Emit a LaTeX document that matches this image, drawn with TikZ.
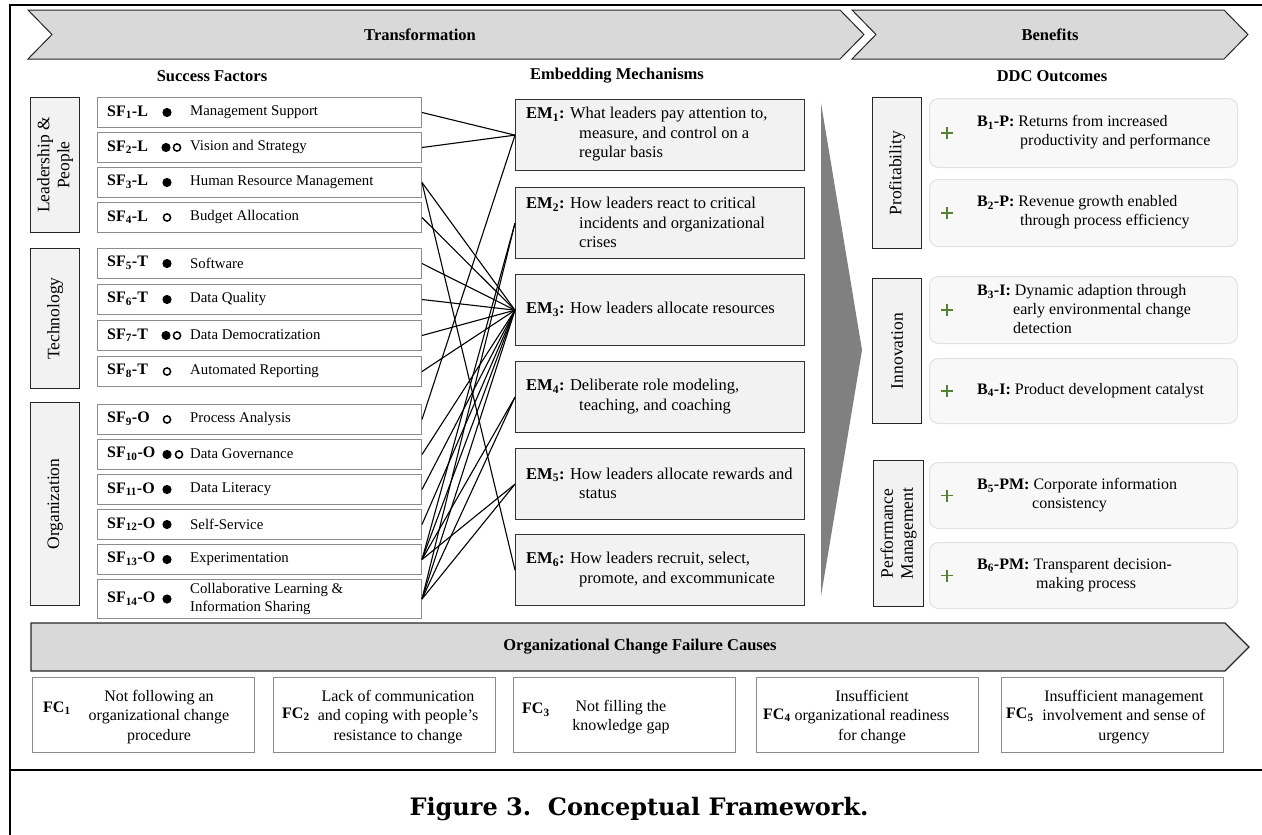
\documentclass[tikz,border=0pt]{standalone}
\usepackage{fontspec}
\setmainfont{Liberation Serif}
\newfontfamily\capfont{DejaVu Serif}
\usetikzlibrary{calc}
\definecolor{barfill}{RGB}{217,217,217}
\definecolor{boxfill}{RGB}{242,242,242}
\definecolor{bfill}{RGB}{248,248,248}
\definecolor{bline}{RGB}{226,226,226}
\definecolor{sfline}{RGB}{140,140,140}
\definecolor{plusgreen}{RGB}{84,130,53}
\definecolor{wedgegray}{RGB}{128,128,128}
\tikzset{
  sfbox/.style={draw=sfline, line width=1pt, fill=white, anchor=north west, inner sep=0pt, minimum width=324pt},
  catbox/.style={draw=black!85, line width=1.2pt, fill=boxfill, anchor=north west, inner sep=0pt, minimum width=49pt},
  embox/.style={draw=black!80, line width=1.3pt, fill=boxfill, anchor=north west, inner sep=0pt, minimum width=289pt, minimum height=71pt},
  bbox/.style={draw=bline, line width=1pt, fill=bfill, rounded corners=9pt, anchor=north west, inner sep=0pt, minimum width=308pt},
  fcbox/.style={draw=sfline, line width=1pt, fill=white, anchor=north west, inner sep=0pt, minimum width=222pt, minimum height=75pt},
  arrowbar/.style={draw=black!85, line width=1pt, fill=barfill},
  link/.style={draw=black, line width=1.1pt},
  hdr/.style={font=\fontsize{16.5}{19.5}\selectfont\bfseries, inner sep=0pt},
  lab/.style={font=\fontsize{16}{19}\selectfont\bfseries, inner sep=0pt, anchor=west},
  sfdesc/.style={font=\fontsize{14.8}{18}\selectfont, inner sep=0pt, anchor=west, align=left},
  emtext/.style={font=\fontsize{16.5}{19.5}\selectfont, inner sep=0pt, anchor=west, align=left},
  btext/.style={font=\fontsize{16}{19}\selectfont, inner sep=0pt, anchor=west, align=left},
  fctext/.style={font=\fontsize{16}{19.5}\selectfont, inner sep=0pt, align=center},
  cattext/.style={font=\fontsize{17.5}{20}\selectfont, inner sep=0pt, align=center, rotate=90},
  plusmark/.style={draw=plusgreen, line width=1.6pt},
}
\begin{document}
\begin{tikzpicture}[x=1pt,y=-1pt]
\useasboundingbox (0,0) rectangle (1262,835);
\fill[white] (0,0) rectangle (1262,835);
% frame
\draw[line width=2.5pt] (10,835) -- (10,5) -- (1262,5);
\draw[line width=2.5pt] (10,770) -- (1262,770);

% top chevrons
\draw[arrowbar] (28,10) -- (840,10) -- (864,34.5) -- (840,59) -- (28,59) -- (52,34.5) -- cycle;
\node[hdr] (ttrans) at (420,34.5) {Transformation};
\draw[arrowbar] (852,10) -- (1224,10) -- (1248,34.5) -- (1224,59) -- (852,59) -- (876,34.5) -- cycle;
\node[hdr] (tben) at (1050,34.5) {Benefits};

% column headers
\node[hdr] (hsf) at (212,76) {Success Factors};
\node[hdr] (hem) at (617,76) {Embedding Mechanisms};
\node[hdr] (hddc) at (1052,76) {DDC Outcomes};

% left categories
\node[catbox, minimum height=135pt] (catL) at (30,97) {};
\node[cattext] (catLt) at (catL.center) {Leadership \&\\People};
\node[catbox, minimum height=140pt] (catT) at (30,248) {};
\node[cattext] (catTt) at (catT.center) {Technology};
\node[catbox, minimum height=203pt] (catO) at (30,402) {};
\node[cattext] (catOt) at (catO.center) {Organization};

% success factors
\foreach \i/\t/\h/\lab/\desc in {
  1/97/30/L/{Management Support},
  2/132/30/L/{Vision and Strategy},
  3/167/30/L/{Human Resource Management},
  4/202/30/L/{Budget Allocation},
  5/248/30/T/{Software},
  6/284/30/T/{Data Quality},
  7/320/30/T/{Data Democratization},
  8/356/30/T/{Automated Reporting},
  9/404/30/O/{Process Analysis},
  10/439/30/O/{Data Governance},
  11/474/30/O/{Data Literacy},
  12/509/30/O/{Self-Service},
  13/544/30/O/{Experimentation},
  14/579/39/O/{Collaborative Learning \&\\Information Sharing}}{
  \node[sfbox, minimum height=\h pt] (sf\i) at (97,\t) {};
  \node[lab] (sf\i l) at (107,\t+\h/2) {SF\textsubscript{\i}-\lab};
  \node[sfdesc] (sf\i d) at (190,\t+\h/2) {\desc};
}
% dots
\foreach \i/\x in {1/167,3/167,5/167,6/167,11/167,12/167,13/167,14/167,2/166,7/166,10/167}
  \fill (\x,0 |- sf\i) circle (4.6pt);
\foreach \i/\x in {4/167,8/167,9/167,2/177,7/177,10/179}
  \draw[line width=1.5pt] (\x,0 |- sf\i) circle (3.6pt);

% embedding mechanisms
\node[embox] (em1) at (515,99) {};
\node[emtext] (em1t) at (526,134.5) {\textbf{EM\textsubscript{1}:} What leaders pay attention to,\\\hspace*{53pt}measure, and control on a\\\hspace*{53pt}regular basis};
\node[embox] (em2) at (515,187) {};
\node[emtext] (em2t) at (526,222.5) {\textbf{EM\textsubscript{2}:} How leaders react to critical\\\hspace*{53pt}incidents and organizational\\\hspace*{53pt}crises};
\node[embox] (em3) at (515,274) {};
\node[emtext] (em3t) at (526,309.5) {\textbf{EM\textsubscript{3}:} How leaders allocate resources};
\node[embox] (em4) at (515,361) {};
\node[emtext] (em4t) at (526,396.5) {\textbf{EM\textsubscript{4}:} Deliberate role modeling,\\\hspace*{53pt}teaching, and coaching};
\node[embox] (em5) at (515,448) {};
\node[emtext] (em5t) at (526,483.5) {\textbf{EM\textsubscript{5}:} How leaders allocate rewards and\\\hspace*{53pt}status};
\node[embox] (em6) at (515,534) {};
\node[emtext] (em6t) at (526,569.5) {\textbf{EM\textsubscript{6}:} How leaders recruit, select,\\\hspace*{53pt}promote, and excommunicate};

% connectors
\foreach \s/\e in {1/1,2/1,9/1,13/2,14/2,3/3,4/3,5/3,6/3,7/3,8/3,10/3,11/3,12/3,13/3,14/3,13/4,14/4,13/5,14/5,3/6}
  \draw[link] (sf\s.east) -- (em\e.west);

% wedge
\fill[wedgegray] (821,103) -- (862,350) -- (821,596) -- cycle;

% right categories
\node[catbox, minimum height=151pt] (catP) at (872,97) {};
\node[cattext] (catPt) at (catP.center) {Profitability};
\node[catbox, minimum height=145pt] (catI) at (872,278) {};
\node[cattext] (catIt) at (catI.center) {Innovation};
\node[catbox, minimum height=146pt, minimum width=50pt] (catM) at (873,460) {};
\node[cattext] (catMt) at (catM.center) {Performance\\Management};

% benefits
\node[bbox, minimum height=69pt] (b1) at (929,98) {};
\node[btext] (b1t) at (977,132.5) {\textbf{B\textsubscript{1}-P:} Returns from increased\\\hspace*{43pt}productivity and performance};
\node[bbox, minimum height=67pt] (b2) at (929,179) {};
\node[btext] (b2t) at (977,212.5) {\textbf{B\textsubscript{2}-P:} Revenue growth enabled\\\hspace*{43pt}through process efficiency};
\node[bbox, minimum height=67pt] (b3) at (929,276) {};
\node[btext] (b3t) at (977,309.5) {\textbf{B\textsubscript{3}-I:} Dynamic adaption through\\\hspace*{36pt}early environmental change\\\hspace*{36pt}detection};
\node[bbox, minimum height=65pt] (b4) at (929,358) {};
\node[btext] (b4t) at (977,390.5) {\textbf{B\textsubscript{4}-I:} Product development catalyst};
\node[bbox, minimum height=66pt] (b5) at (929,462) {};
\node[btext] (b5t) at (977,495) {\textbf{B\textsubscript{5}-PM:} Corporate information\\\hspace*{55pt}consistency};
\node[bbox, minimum height=66pt] (b6) at (929,542) {};
\node[btext] (b6t) at (977,575) {\textbf{B\textsubscript{6}-PM:} Transparent decision-\\\hspace*{59pt}making process};
\foreach \b in {b1,b2,b3,b4,b5,b6}
  \draw[plusmark] (941,0 |- \b) -- (953,0 |- \b) (947,0 |- \b) ++(0,-6) -- ++(0,12);

% failure causes bar
\draw[arrowbar, line width=1.2pt] (31,623) -- (1225,623) -- (1249,647) -- (1225,671) -- (31,671) -- cycle;
\node[hdr] (ocfc) at (640,647) {Organizational Change Failure Causes};

\node[fcbox] (fc1) at (32,677) {};
\node[lab] (fc1l) at (43,708) {FC\textsubscript{1}};
\node[fctext] (fc1t) at (159,717) {Not following an\\organizational change\\procedure};
\node[fcbox] (fc2) at (273,677) {};
\node[lab] (fc2l) at (282,714) {FC\textsubscript{2}};
\node[fctext] (fc2t) at (398,717) {Lack of communication\\and coping with people’s\\resistance to change};
\node[fcbox] (fc3) at (513,677) {};
\node[lab] (fc3l) at (522,710) {FC\textsubscript{3}};
\node[fctext] (fc3t) at (621,717) {Not filling the\\knowledge gap};
\node[fcbox] (fc4) at (756,677) {};
\node[lab] (fc4l) at (763,715) {FC\textsubscript{4}};
\node[fctext] (fc4t) at (872,717) {Insufficient\\organizational readiness\\for change};
\node[fcbox] (fc5) at (1001,677) {};
\node[lab] (fc5l) at (1006,715) {FC\textsubscript{5}};
\node[fctext] (fc5t) at (1124,717) {Insufficient management\\involvement and sense of\\urgency};

% caption
\node[font=\capfont\bfseries\fontsize{24}{28}\selectfont, anchor=base, inner sep=0pt] (cap) at (639,815) {Figure 3.\ \ Conceptual Framework.};
\end{tikzpicture}
\end{document}
